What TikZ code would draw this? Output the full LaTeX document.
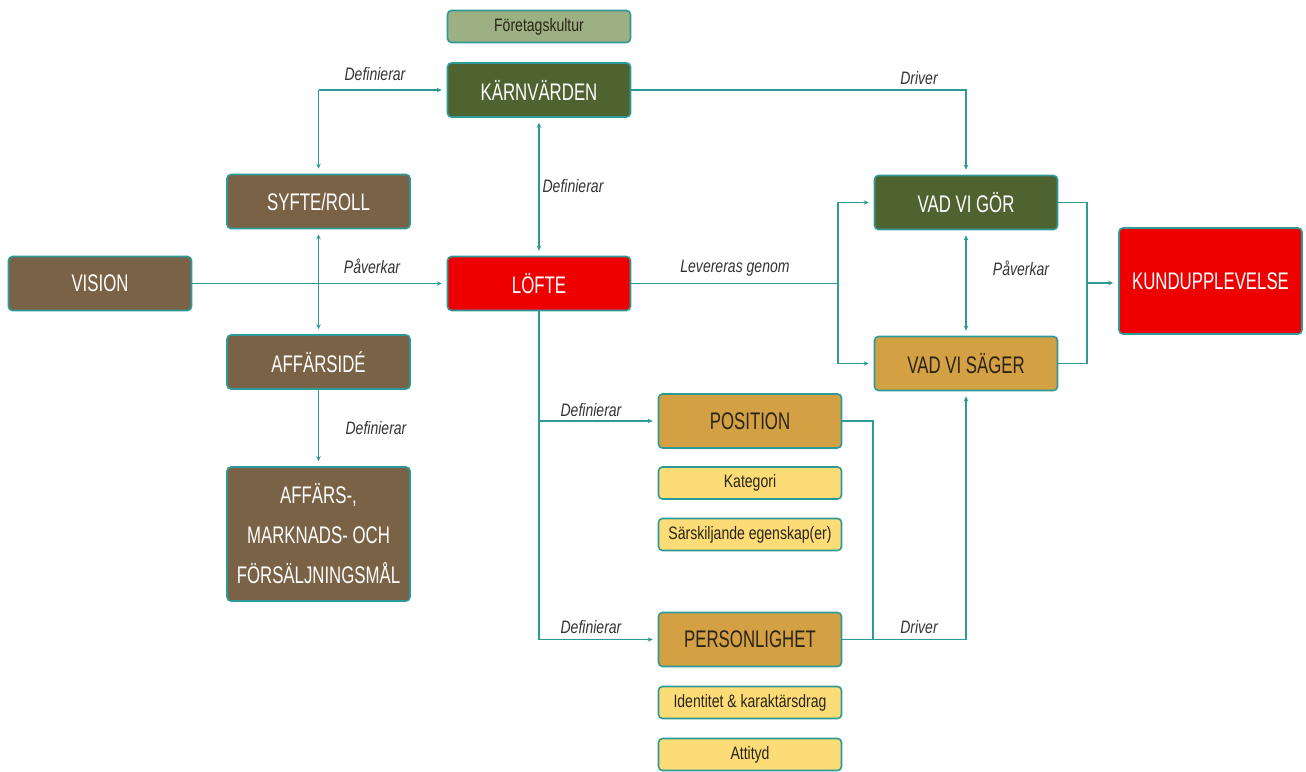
\documentclass[tikz,border=0pt]{standalone}
\usepackage{fontspec}
\setmainfont[FakeStretch=0.78]{Liberation Sans}
\newfontfamily\boxfont[FakeStretch=0.7]{Liberation Sans}
\usetikzlibrary{arrows.meta}
\definecolor{edgec}{HTML}{2E9A97}
\definecolor{brownc}{HTML}{7A6246}
\definecolor{greenc}{HTML}{4F6331}
\definecolor{sagec}{HTML}{9DB083}
\definecolor{redc}{HTML}{EE0000}
\definecolor{orangec}{HTML}{D3A044}
\definecolor{yellowc}{HTML}{FCDC76}
\definecolor{darktext}{HTML}{2A2418}
\begin{document}
\begin{tikzpicture}[x=1pt,y=-1pt,
  box/.style={draw=edgec, line width=1.6pt, rounded corners=4pt, inner sep=0pt,
    minimum width=183pt, minimum height=54pt, align=center,
    font=\boxfont\fontsize{24}{26}\selectfont},
  brownbox/.style={box, fill=brownc, text=white},
  greenbox/.style={box, fill=greenc, text=white},
  redbox/.style={box, fill=redc, text=white},
  orangebox/.style={box, fill=orangec, text=darktext},
  smallbox/.style={box, minimum height=32pt, font=\normalfont\fontsize{18}{20}\selectfont},
  yellowbox/.style={smallbox, fill=yellowc, text=darktext},
  sagebox/.style={smallbox, fill=sagec, text=darktext},
  line/.style={draw=edgec, line width=1.4pt},
  link/.style={line, -{Stealth[length=5pt,width=4.5pt]}, shorten >=5pt},
  twoway/.style={line, {Stealth[length=5pt,width=4.5pt]}-{Stealth[length=5pt,width=4.5pt]}, shorten >=5pt, shorten <=5pt},
  lbl/.style={font=\itshape\fontsize{18}{20}\selectfont, text=black!80}]
\useasboundingbox (0,0) rectangle (1306,771);

% boxes
\node[sagebox]   (kultur)  at (539,26.5)  {Företagskultur};
\node[greenbox]  (karn)    at (539,90)    {KÄRNVÄRDEN};
\node[brownbox]  (syfte)   at (318.5,201.5) {SYFTE/ROLL};
\node[brownbox]  (vision)  at (100,283.5) {VISION};
\node[redbox]    (lofte)   at (539,283.5) {LÖFTE};
\node[brownbox]  (affid)   at (318.5,362) {AFFÄRSIDÉ};
\node[brownbox, minimum height=134pt, font=\boxfont\fontsize{24}{40}\selectfont]
                 (mal)     at (318.5,534) {AFFÄRS-,\\MARKNADS- OCH\\FÖRSÄLJNINGSMÅL};
\node[greenbox]  (gor)     at (966,202.5) {VAD VI GÖR};
\node[orangebox] (sager)   at (966,363.5) {VAD VI SÄGER};
\node[redbox, minimum height=106pt] (kund) at (1210.5,281) {KUNDUPPLEVELSE};
\node[orangebox] (position) at (750,421)  {POSITION};
\node[yellowbox] (kategori) at (750,483)  {Kategori};
\node[yellowbox] (sarsk)    at (750,534.5) {Särskiljande egenskap(er)};
\node[orangebox] (person)   at (750,639.5) {PERSONLIGHET};
\node[yellowbox] (ident)    at (750,702.5) {Identitet \& karaktärsdrag};
\node[yellowbox] (attityd)  at (750,754.5) {Attityd};

% KÄRNVÄRDEN <-> SYFTE/ROLL
\coordinate (k1) at (syfte.north |- karn.west);
\draw[link] (k1) -- (karn.west);
\draw[link] (k1) -- (syfte.north);
\node[lbl] at (375,74) {Definierar};

% SYFTE/ROLL <-> AFFÄRSIDÉ
\draw[twoway] (syfte.south) -- (affid.north);

% VISION -> LÖFTE
\draw[link] (vision.east) -- (lofte.west);
\node[lbl] at (372,266) {Påverkar};

% KÄRNVÄRDEN <-> LÖFTE
\draw[twoway] (karn.south) -- (lofte.north);
\node[lbl] at (573,186) {Definierar};

% KÄRNVÄRDEN -> VAD VI GÖR
\draw[link] (karn.east) -| (gor.north);
\node[lbl] at (919,78) {Driver};

% LÖFTE -> VAD VI GÖR / VAD VI SÄGER
\coordinate (sp) at (838,283.5);
\draw[line] (lofte.east) -- (sp);
\draw[link] (sp) |- (gor.west);
\draw[link] (sp) |- (sager.west);
\node[lbl] at (735,268) {Levereras genom};

% VAD VI GÖR <-> VAD VI SÄGER
\draw[twoway] (gor.south) -- (sager.north);
\node[lbl] at (1021,268) {Påverkar};

% both -> KUNDUPPLEVELSE
\coordinate (mg) at (1087,283);
\draw[line] (gor.east) -| (mg);
\draw[line] (sager.east) -| (mg);
\draw[link] (mg) -- (kund.west |- mg);

% LÖFTE -> POSITION / PERSONLIGHET
\coordinate (ld) at (lofte.south |- person.west);
\draw[line] (lofte.south) -- (ld);
\draw[link] (lofte.south |- position.west) -- (position.west);
\draw[link] (ld) -- (person.west);
\node[lbl] at (591,410) {Definierar};
\node[lbl] at (591,627) {Definierar};

% AFFÄRSIDÉ -> mål
\draw[link] (affid.south) -- (mal.north);
\node[lbl] at (376,428) {Definierar};

% POSITION / PERSONLIGHET -> VAD VI SÄGER
\coordinate (pj) at (873,639.5);
\draw[line] (position.east) -| (pj);
\draw[link] (person.east) -| (sager.south);
\node[lbl] at (919,627) {Driver};
\end{tikzpicture}
\end{document}
